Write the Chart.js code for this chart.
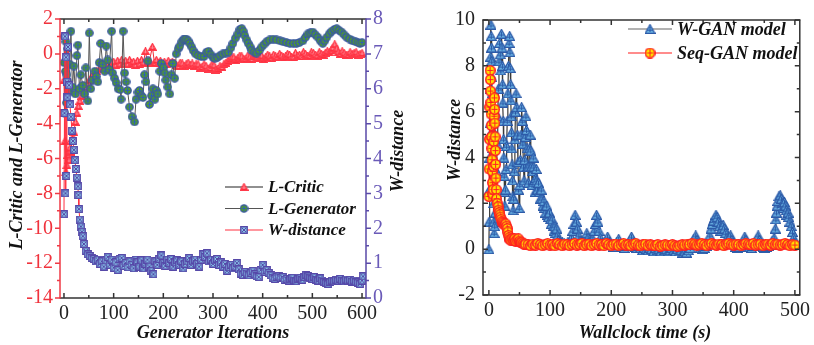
<!DOCTYPE html>
<html>
<head>
<meta charset="utf-8">
<script src="https://cdn.jsdelivr.net/npm/chart.js@4.4.1/dist/chart.umd.min.js"></script>
<style>
  body { margin: 0; background: #fff; width: 814px; height: 345px; overflow: hidden; position: relative; }
  canvas { position: absolute; top: 0; }
  #left { left: 0; }
  #right { left: 415px; }
</style>
</head>
<body>
<canvas id="left" width="410" height="345"></canvas>
<canvas id="right" width="399" height="345"></canvas>
<script>
// ---- left panel: losses and W-distance vs generator iterations ----
const iterTicks = [0, 100, 200, 300, 400, 500, 600];
const lossTicks = [-14, -12, -10, -8, -6, -4, -2, 0, 2];
const wdTicks = [0, 1, 2, 3, 4, 5, 6, 7, 8];

// [iteration, loss]
const lCritic = [
  [0,-1.5],[2,-5.0],[4,-6.8],[6,-6.4],[8,-5.8],[10,-6.1],[12,-5.4],[14,-5.6],[16,-5.0],[18,-4.8],
  [20,-4.5],[23,-3.9],[26,-3.4],[29,-3.0],[32,-2.7],[36,-2.4],[40,-2.1],[44,-1.9],[48,-1.7],[52,-1.5],
  [56,-1.3],[60,-1.15],[66,-1.0],[72,-0.85],[78,-0.75],[84,-0.65],[90,-0.55],[96,-0.5],[100,-0.45],[104,-0.65],
  [108,-0.4],[112,-0.6],[116,-0.35],[120,-0.55],[124,-0.4],[128,-0.6],[132,-0.35],[136,-0.55],[140,-0.45],[144,-0.65],
  [148,-0.4],[152,-0.6],[156,-0.35],[160,-0.5],[164,0.15],[168,-0.5],[172,-0.4],[178,0.4],[182,-0.5],[186,-0.35],
  [190,-0.55],[194,-0.4],[198,-0.6],[202,-0.45],[206,-0.6],[210,-0.4],[214,-0.55],[218,-0.45],[222,-0.5],[226,-0.65],
  [230,-0.7],[234,-0.5],[238,-0.55],[242,-0.7],[246,-0.6],[250,-0.5],[254,-0.65],[258,-0.55],[262,-0.7],[266,-0.6],
  [270,-0.6],[274,-0.8],[278,-0.75],[282,-0.6],[286,-0.7],[290,-0.85],[294,-0.8],[298,-0.6],[302,-0.65],[306,-0.9],
  [310,-0.85],[314,-0.7],[318,-0.75],[322,-0.6],[326,-0.5],[330,-0.4],[334,-0.3],[338,-0.2],[342,-0.2],[346,-0.35],
  [350,-0.25],[354,-0.1],[358,-0.15],[362,-0.3],[366,-0.3],[370,-0.1],[374,-0.2],[378,-0.3],[382,-0.15],[386,-0.05],
  [390,-0.25],[394,-0.2],[398,-0.1],[402,-0.3],[406,-0.2],[410,-0.05],[414,-0.15],[418,-0.25],[422,-0.05],[426,-0.15],
  [430,-0.2],[434,0.0],[438,-0.1],[442,-0.2],[446,-0.15],[450,0.0],[454,-0.05],[458,-0.2],[462,-0.2],[466,0.05],
  [470,-0.1],[474,-0.05],[478,-0.15],[482,0.1],[486,0.0],[490,-0.1],[494,-0.1],[498,0.1],[502,0.05],[506,-0.05],
  [510,-0.1],[514,0.1],[518,0.0],[522,-0.05],[526,0.05],[530,0.15],[534,0.1],[538,0.2],[541,0.35],[545,0.55],
  [549,0.3],[552,0.1],[556,0.0],[560,0.15],[564,0.05],[568,-0.05],[572,-0.05],[576,0.1],[580,0.0],[584,0.05],
  [588,0.1],[592,-0.05],[596,0.0],[600,0.05]
];

const lGenerator = [
  [0,-0.5],[1,1.0],[2,-3.4],[3,-1.0],[4,0.7],[5,-2.8],[6,-1.2],[7,0.3],[8,-1.6],[10,-2.2],
  [12,-0.6],[14,1.3],[17,-1.9],[20,-0.7],[23,-2.3],[26,-0.1],[28,0.5],[31,-2.0],[34,-1.2],[38,-1.8],
  [41,-2.3],[44,-0.8],[48,-2.7],[51,1.2],[54,-2.0],[58,-1.5],[62,-1.0],[65,-1.3],[68,-1.6],[71,-0.5],
  [74,0.6],[78,-0.6],[82,-1.0],[85,0.45],[88,-0.35],[91,-0.9],[96,1.3],[98,-1.1],[102,-1.4],[105,-1.65],
  [109,-2.0],[113,-2.05],[115,-2.6],[119,1.3],[122,-1.1],[125,-1.6],[128,-2.1],[132,-3.05],[137,-3.6],[142,-3.9],
  [145,-2.6],[149,-2.2],[152,-2.1],[156,-2.4],[159,-2.5],[162,-1.2],[165,-1.6],[169,-0.4],[172,-2.9],[176,-2.4],
  [179,-2.0],[183,-2.6],[186,-2.1],[189,-2.3],[193,-1.0],[196,-0.55],[200,-0.8],[203,-1.1],[205,-1.5],[209,-1.9],
  [213,-2.3],[216,-1.2],[219,-0.55],[223,-1.4],[226,0.0],[230,0.3],[233,0.45],[237,0.7],[240,0.8],[243,0.85],
  [246,0.85],[250,0.75],[253,0.6],[257,0.4],[260,0.2],[265,0.0],[270,-0.1],[276,-0.15],[282,-0.15],[287,0.1],
  [291,0.15],[296,-0.05],[300,-0.2],[304,-0.25],[309,-0.2],[314,-0.1],[320,0.0],[326,0.05],[331,0.1],[336,0.35],
  [340,0.6],[345,0.9],[350,1.15],[354,1.4],[358,1.45],[361,1.3],[364,1.05],[368,0.8],[371,0.6],[375,0.4],
  [378,0.2],[383,0.1],[388,0.05],[393,0.2],[398,0.4],[403,0.55],[408,0.7],[414,0.8],[421,0.85],[428,0.8],
  [435,0.75],[441,0.7],[448,0.65],[455,0.6],[462,0.6],[468,0.6],[474,0.65],[481,0.75],[486,0.95],[491,1.15],
  [496,1.2],[501,1.25],[506,1.1],[511,0.95],[516,0.75],[521,0.6],[525,0.75],[529,0.95],[534,1.15],[539,1.3],
  [544,1.4],[549,1.45],[554,1.35],[559,1.25],[564,1.1],[569,0.95],[575,0.85],[581,0.75],[587,0.7],[592,0.65],
  [596,0.6],[600,0.65]
];

// [iteration, W-distance] on the right axis
const wDistance = [
  [0,2.4],[1,5.3],[2,7.5],[3,3.0],[4,6.9],[5,3.5],[6,6.2],[7,5.75],[8,7.2],[10,6.1],
  [12,5.55],[14,5.2],[16,4.8],[18,4.5],[20,4.25],[22,3.95],[24,3.7],[26,3.45],[28,3.2],[29,2.95],
  [30,2.55],[32,2.25],[34,2.05],[36,1.9],[38,1.77],[40,1.55],[44,1.35],[48,1.25],[52,1.2],[56,1.15],
  [60,1.12],[64,1.05],[68,1.1],[72,0.98],[76,1.05],[80,0.9],[84,1.08],[88,1.18],[92,0.95],[96,1.1],
  [100,0.87],[104,1.02],[108,0.8],[112,1.12],[116,1.15],[120,0.92],[124,1.0],[128,0.88],[132,1.05],[136,0.95],
  [140,0.85],[144,1.1],[148,1.02],[152,0.9],[156,1.08],[160,0.85],[164,0.98],[168,1.1],[172,0.9],[176,0.78],
  [180,0.68],[184,1.05],[188,0.95],[192,1.12],[196,1.22],[200,1.0],[204,0.92],[208,1.1],[212,1.0],[216,1.12],
  [220,0.9],[224,1.02],[228,1.08],[232,0.95],[236,1.05],[240,0.85],[244,0.98],[248,1.05],[252,1.15],[256,0.95],
  [260,1.05],[264,1.1],[268,0.98],[272,0.9],[276,1.1],[280,1.25],[284,1.18],[288,1.28],[292,1.05],[296,1.1],
  [300,0.98],[304,1.08],[308,1.12],[312,0.95],[316,1.02],[320,0.9],[324,0.98],[328,0.78],[332,0.88],[336,0.95],
  [340,0.85],[344,0.9],[348,1.0],[352,0.82],[356,0.7],[360,0.66],[364,0.75],[368,0.7],[372,0.65],[376,0.72],
  [380,0.78],[384,0.68],[388,0.62],[392,0.6],[396,0.8],[400,0.95],[404,0.75],[408,0.8],[412,0.72],[416,0.65],
  [420,0.58],[424,0.55],[428,0.6],[432,0.62],[436,0.58],[440,0.6],[444,0.52],[448,0.55],[452,0.5],[456,0.54],
  [460,0.58],[464,0.5],[468,0.48],[472,0.55],[476,0.58],[480,0.52],[484,0.6],[488,0.66],[492,0.62],[496,0.58],
  [500,0.55],[504,0.6],[508,0.52],[512,0.5],[516,0.56],[520,0.5],[524,0.46],[528,0.43],[532,0.4],[536,0.46],
  [540,0.5],[544,0.48],[548,0.52],[552,0.5],[556,0.55],[560,0.5],[564,0.48],[568,0.53],[572,0.5],[576,0.52],
  [580,0.47],[584,0.5],[588,0.46],[592,0.44],[596,0.4],[600,0.5],[602,0.62]
];

// ---- right panel: W-distance vs wallclock time ----
const timeTicks = [0, 100, 200, 300, 400, 500];
const distTicks = [-2, 0, 2, 4, 6, 8, 10];

// [seconds, W-distance]
const wganModel = [
  [0,0.0],[0.5,1.2],[1,2.6],[1.5,4.0],[2,5.5],[2.5,7.0],[3,8.4],[3.4,9.8],[3.8,9.3],[4.2,8.8],
  [4.6,8.2],[5,7.5],[5.4,6.8],[5.8,6.0],[6.2,5.2],[6.6,4.4],[7,3.6],[7.4,2.8],[7.8,2.0],[8.2,1.2],
  [8.6,0.7],[9.5,1.0],[10.5,1.6],[11.5,2.4],[12.5,3.4],[13.5,4.6],[14.5,5.8],[15.5,7.0],[16.5,8.2],[17.5,9.0],
  [18.5,8.5],[19.5,7.8],[20.5,9.4],[21.5,8.8],[22,8.0],[22.5,7.2],[23,6.4],[23.5,5.6],[24,4.8],[24.5,4.0],
  [25,3.2],[25.5,2.5],[26,1.9],[27,2.6],[28,3.5],[29,4.5],[30,5.6],[31,6.8],[32,8.0],[33,9.0],
  [34,9.3],[34.5,8.6],[35,7.9],[35.5,7.2],[36,6.5],[36.5,5.8],[37,5.1],[37.5,4.4],[38,3.7],[38.5,3.0],
  [39,2.3],[39.5,1.7],[40.5,2.2],[41.5,3.4],[42.5,4.8],[43.5,6.0],[44.5,6.8],[45.5,6.2],[46.5,5.0],[47.5,3.8],
  [48.5,2.6],[49.5,1.8],[50.5,2.8],[51.5,3.9],[52.5,5.0],[53.5,6.2],[54.5,5.6],[55.5,4.6],[56.5,3.6],[57.5,3.0],
  [58.5,3.9],[59.5,4.9],[60.5,5.8],[61.5,5.2],[62.5,4.4],[63.5,3.6],[64.5,2.9],[65.5,3.6],[66.5,4.4],[67.5,5.0],
  [68.5,4.3],[69.5,3.6],[70.5,2.8],[71.5,3.4],[72.5,4.0],[73.5,3.6],[74.5,3.0],[75.5,2.5],[76.5,3.1],[77.5,3.5],
  [78.5,3.0],[79.5,2.6],[81,2.9],[82.5,2.5],[84,2.2],[85.5,2.6],[87,2.2],[88.5,1.9],[90,2.1],[91.5,1.8],
  [93,1.6],[94.5,1.9],[96,1.5],[97.5,1.4],[99,1.6],[100.5,1.3],[102,1.1],[103.5,1.3],[105,1.0],[106.5,0.8],
  [108,1.0],[109.5,0.7],[111,0.9],[112.5,0.6],[114,0.4],[116,0.3],[118,0.2],[120,0.3],[123,0.25],[126,0.2],
  [129,0.3],[132,0.25],[135,0.5],[137,0.8],[139,1.1],[141,1.5],[143,1.2],[145,0.9],[147,0.6],[149,0.35],
  [152,0.25],[155,0.2],[158,0.4],[160,0.7],[162,0.5],[164,0.3],[167,0.2],[170,0.45],[172,0.8],[174,1.1],
  [176,1.5],[178,1.2],[180,0.8],[182,0.5],[185,0.25],[188,0.2],[191,0.35],[194,0.55],[197,0.3],[200,0.2],
  [203,0.1],[206,0.2],[209,0.3],[212,0.45],[215,0.2],[218,0.1],[221,0.05],[224,0.15],[227,0.2],[230,0.35],
  [233,0.55],[236,0.25],[239,0.1],[242,0.05],[245,0.15],[248,0.05],[251,-0.05],[254,0.05],[257,0.0],[260,-0.05],
  [263,0.05],[266,0.0],[269,-0.1],[272,0.05],[275,-0.05],[278,0.0],[281,-0.1],[284,0.05],[287,-0.05],[290,0.0],
  [293,-0.1],[296,-0.05],[299,0.05],[302,-0.05],[305,-0.1],[308,0.0],[311,-0.1],[314,-0.05],[317,-0.15],[320,-0.1],
  [323,-0.15],[326,-0.05],[329,0.05],[332,0.2],[335,0.45],[338,0.6],[340,0.4],[343,0.2],[346,0.05],[349,0.0],
  [352,0.05],[355,0.15],[358,0.3],[361,0.6],[363,0.9],[365,1.1],[367,1.25],[369,1.35],[371,1.5],[373,1.4],
  [375,1.2],[377,1.0],[379,0.8],[381,0.9],[383,1.05],[385,0.9],[387,0.7],[389,0.5],[391,0.35],[393,0.45],
  [395,0.6],[397,0.4],[400,0.25],[403,0.1],[406,0.05],[409,0.1],[412,0.2],[415,0.3],[418,0.55],[420,0.4],
  [423,0.2],[426,0.1],[429,0.05],[432,0.15],[435,0.3],[438,0.45],[440,0.6],[442,0.4],[445,0.2],[448,0.1],
  [451,0.05],[454,0.1],[457,0.15],[460,0.2],[463,0.35],[466,0.5],[468,0.9],[469,1.3],[470,1.6],[471,1.9],
  [472,2.1],[474,2.3],[476,2.35],[478,2.2],[480,2.0],[481,1.8],[483,2.05],[485,1.9],[486,1.7],[487,1.5],
  [489,1.6],[490,1.4],[492,1.2],[494,1.0],[496,0.75],[498,0.5],[500,0.25]
];

const seqGanModel = [
  [0,2.3],[0.5,3.5],[1,4.8],[1.5,6.2],[2,7.8],[2.4,7.4],[2.8,6.9],[3.2,6.4],[3.6,5.9],[4,5.4],
  [4.4,4.9],[4.8,4.4],[5.2,3.9],[5.6,3.4],[6,2.9],[6.5,2.4],[7,2.6],[7.5,3.6],[8,4.7],[8.5,5.8],
  [9,6.6],[9.4,6.1],[9.8,5.5],[10.2,4.9],[10.6,4.3],[11,3.7],[11.5,3.1],[12,2.6],[12.5,2.2],[13.5,2.0],
  [15,1.85],[16,1.7],[17,1.6],[18,1.5],[19,1.4],[20,1.3],[21.5,1.2],[23,1.15],[24.5,1.1],[26,1.05],
  [27.5,1.1],[29,1.0],[30,0.9],[31,0.75],[32,0.6],[33,0.5],[34.5,0.42],[36,0.4],[38,0.45],[40,0.4],
  [42,0.45],[44,0.35],[46,0.4],[48,0.45],[50,0.35],[52,0.3],[54,0.3],[56,0.25],[58,0.2],[60,0.22],
  [64,0.2],[68,0.15],[72,0.22],[76,0.18],[80,0.25],[84,0.2],[88,0.15],[92,0.2],[96,0.25],[100,0.18],
  [104,0.2],[108,0.15],[112,0.25],[116,0.2],[120,0.15],[124,0.22],[128,0.2],[132,0.15],[136,0.2],[140,0.25],
  [144,0.18],[148,0.2],[152,0.25],[156,0.15],[160,0.2],[164,0.22],[168,0.15],[172,0.2],[176,0.25],[180,0.18],
  [184,0.2],[188,0.15],[192,0.25],[196,0.2],[200,0.15],[204,0.2],[208,0.22],[212,0.15],[216,0.2],[220,0.25],
  [224,0.18],[228,0.2],[232,0.15],[236,0.22],[240,0.25],[244,0.18],[248,0.15],[252,0.2],[256,0.22],[260,0.15],
  [264,0.2],[268,0.18],[272,0.15],[276,0.2],[280,0.12],[284,0.15],[288,0.2],[292,0.18],[296,0.15],[300,0.2],
  [304,0.15],[308,0.12],[312,0.15],[316,0.2],[320,0.18],[324,0.22],[328,0.2],[332,0.25],[336,0.22],[340,0.18],
  [344,0.2],[348,0.25],[352,0.2],[356,0.15],[360,0.22],[364,0.25],[368,0.2],[372,0.18],[376,0.22],[380,0.2],
  [384,0.15],[388,0.22],[392,0.25],[396,0.2],[400,0.18],[404,0.22],[408,0.2],[412,0.15],[416,0.2],[420,0.25],
  [424,0.22],[428,0.2],[432,0.25],[436,0.18],[440,0.2],[444,0.22],[448,0.15],[452,0.2],[456,0.22],[460,0.18],
  [464,0.25],[468,0.2],[472,0.22],[476,0.18],[480,0.2],[484,0.25],[488,0.2],[492,0.15],[496,0.2],[500,0.18]
];

const SERIF = '"Liberation Serif", "Times New Roman", serif';
const toXY = arr => arr.map(p => ({ x: p[0], y: p[1] }));

// small marker glyphs (Origin style: filled shape with a cross inside)
function marker(shape, w, h, fill, stroke, cross, lw) {
  const c = document.createElement('canvas');
  c.width = w; c.height = h;
  const g = c.getContext('2d');
  g.fillStyle = fill; g.strokeStyle = stroke; g.lineWidth = lw || 1.2;
  g.beginPath();
  if (shape === 'circle') g.arc(w / 2, h / 2, w / 2 - 0.8, 0, Math.PI * 2);
  else if (shape === 'rect') g.rect(0.8, 0.8, w - 1.6, h - 1.6);
  else { g.moveTo(w / 2, 0.6); g.lineTo(w - 0.6, h - 0.6); g.lineTo(0.6, h - 0.6); g.closePath(); }
  g.fill(); g.stroke();
  if (cross) {
    g.strokeStyle = cross; g.lineWidth = 1;
    g.beginPath();
    if (shape === 'rect') {
      g.moveTo(2, 2); g.lineTo(w - 2, h - 2); g.moveTo(w - 2, 2); g.lineTo(2, h - 2);
    } else {
      const cy = shape === 'triangle' ? h * 0.62 : h / 2;
      g.moveTo(w / 2, shape === 'triangle' ? h * 0.3 : 2); g.lineTo(w / 2, h - 2);
      g.moveTo(2.5, cy); g.lineTo(w - 2.5, cy);
    }
    g.stroke();
  }
  return c;
}

const critMark = marker('triangle', 9, 8, '#ff2a3a', '#ff3a4a', '#ff8a96');
const genMark = marker('circle', 9, 9, '#4e9a2e', '#3a56a8', '#2f5fb8', 1.3);
const wdMark = marker('rect', 8, 8, '#86c6e8', '#5648a8', '#5648a8', 1.4);
const wganMark = marker('triangle', 11, 10, '#68b0e2', '#2c5aa8', '#2c5aa8');
const seqMark = marker('circle', 11, 11, '#ffe000', '#ff2020', '#ff2020', 1.6);

// axis frame, tick marks, titles and legend drawn through the chart's scales
const decor = {
  id: 'decor',
  afterDraw(chart, args, o) {
    const { ctx, chartArea: a } = chart;
    ctx.save();
    (o.edges || []).forEach(e => {
      const s = chart.scales[e.scale];
      const horiz = e.side === 'top' || e.side === 'bottom';
      const base = a[e.side];
      const inSign = (e.side === 'top' || e.side === 'left') ? 1 : -1;
      const d = e.inward ? inSign : -inSign;
      ctx.strokeStyle = e.color; ctx.lineWidth = 1.5;
      ctx.beginPath();
      if (horiz) { ctx.moveTo(a.left - 0.5, base); ctx.lineTo(a.right + 0.5, base); }
      else { ctx.moveTo(base, a.top - 0.5); ctx.lineTo(base, a.bottom + 0.5); }
      [[e.major, 5], [e.minor || [], 3]].forEach(([vals, len]) => vals.forEach(v => {
        const p = s.getPixelForValue(v);
        if (horiz) { ctx.moveTo(p, base); ctx.lineTo(p, base + d * len); }
        else { ctx.moveTo(base, p); ctx.lineTo(base + d * len, p); }
      }));
      ctx.stroke();
    });
    ctx.fillStyle = '#111';
    ctx.textBaseline = 'middle';
    ctx.textAlign = 'center';
    ctx.font = 'italic bold 18px ' + SERIF;
    (o.titles || []).forEach(t => {
      ctx.save();
      ctx.translate(t.x, t.y);
      if (t.rot) ctx.rotate(-Math.PI / 2);
      ctx.fillText(t.text, 0, 0);
      ctx.restore();
    });
    const L = o.legend;
    if (L) {
      ctx.font = 'italic bold ' + L.size + 'px ' + SERIF;
      ctx.textAlign = 'left';
      chart.data.datasets.forEach((ds, i) => {
        const y = L.y + i * L.dy;
        ctx.strokeStyle = ds.legendLine || ds.borderColor; ctx.lineWidth = 1.2;
        ctx.beginPath(); ctx.moveTo(L.x0, y); ctx.lineTo(L.x1, y); ctx.stroke();
        const m = ds.pointStyle;
        ctx.drawImage(m, (L.x0 + L.x1) / 2 - m.width / 2, y - m.height / 2);
        ctx.fillStyle = '#111';
        ctx.fillText(ds.label, L.tx, y + 1);
      });
    }
    ctx.restore();
  }
};

function fixedTicks(list) {
  return s => { s.ticks = list.map(v => ({ value: v })); };
}

const tickFont = { family: SERIF, size: 20 };

new Chart(document.getElementById('left'), {
  type: 'line',
  data: {
    datasets: [
      { label: 'L-Critic', data: toXY(lCritic), yAxisID: 'y', order: 3,
        borderColor: '#f02a38', legendLine: '#222', borderWidth: 1,
        pointStyle: critMark, pointRadius: 4, tension: 0 },
      { label: 'L-Generator', data: toXY(lGenerator), yAxisID: 'y', order: 2,
        borderColor: '#555', borderWidth: 1,
        pointStyle: genMark, pointRadius: 4.5, tension: 0 },
      { label: 'W-distance', data: toXY(wDistance), yAxisID: 'y2', order: 1,
        borderColor: '#ff3040', borderWidth: 1,
        pointStyle: wdMark, pointRadius: 4, tension: 0 }
    ]
  },
  options: {
    responsive: false, animation: false, devicePixelRatio: 1,
    layout: { padding: { top: 13, left: 0, right: 0, bottom: 0 } },
    plugins: {
      legend: { display: false }, tooltip: { enabled: false },
      decor: {
        edges: [
          { scale: 'x', side: 'top', color: '#333', inward: true, major: iterTicks, minor: [50,150,250,350,450,550] },
          { scale: 'x', side: 'bottom', color: '#333', inward: true, major: iterTicks, minor: [50,150,250,350,450,550] },
          { scale: 'y', side: 'left', color: '#f03a46', inward: false, major: lossTicks, minor: [-13,-11,-9,-7,-5,-3,-1,1] },
          { scale: 'y2', side: 'right', color: '#5a4aa8', inward: false, major: wdTicks, minor: [0.5,1.5,2.5,3.5,4.5,5.5,6.5,7.5] }
        ],
        titles: [
          { text: 'Generator Iterations', x: 213, y: 333 },
          { text: 'L-Critic and L-Generator', x: 17, y: 155, rot: true },
          { text: 'W-distance', x: 398, y: 151, rot: true }
        ],
        legend: { x0: 225, x1: 263, tx: 268, y: 187, dy: 21.5, size: 17 }
      }
    },
    scales: {
      x: { type: 'linear', min: -8, max: 608, afterBuildTicks: fixedTicks(iterTicks),
           afterFit: s => { s.height = 47; },
           grid: { display: false, drawTicks: false }, border: { display: false },
           ticks: { color: '#222', padding: 4, maxRotation: 0, font: tickFont } },
      y: { position: 'left', min: -14, max: 2, afterBuildTicks: fixedTicks(lossTicks),
           afterFit: s => { s.width = 60; },
           grid: { display: false, drawTicks: false }, border: { display: false },
           ticks: { color: '#f0323c', padding: 7, font: tickFont } },
      y2: { position: 'right', min: 0, max: 8, afterBuildTicks: fixedTicks(wdTicks),
            afterFit: s => { s.width = 44; },
            grid: { display: false, drawTicks: false }, border: { display: false },
            ticks: { color: '#6a5ab8', padding: 7, font: tickFont } }
    }
  },
  plugins: [decor]
});

new Chart(document.getElementById('right'), {
  type: 'line',
  data: {
    datasets: [
      { label: 'W-GAN model', data: toXY(wganModel), order: 2,
        borderColor: '#3a3a3a', legendLine: '#666', borderWidth: 1.2,
        pointStyle: wganMark, pointRadius: 5, tension: 0 },
      { label: 'Seq-GAN model', data: toXY(seqGanModel), order: 1,
        borderColor: '#ff1a1a', borderWidth: 1.2,
        pointStyle: seqMark, pointRadius: 5.5, tension: 0 }
    ]
  },
  options: {
    responsive: false, animation: false, devicePixelRatio: 1,
    layout: { padding: { top: 13, left: 0, right: 7, bottom: 0 } },
    plugins: {
      legend: { display: false }, tooltip: { enabled: false },
      decor: {
        edges: [
          { scale: 'x', side: 'top', color: '#333', inward: true, major: timeTicks, minor: [50,150,250,350,450] },
          { scale: 'x', side: 'bottom', color: '#333', inward: true, major: timeTicks, minor: [50,150,250,350,450] },
          { scale: 'y', side: 'left', color: '#333', inward: true, major: distTicks, minor: [-1,1,3,5,7,9] },
          { scale: 'y', side: 'right', color: '#333', inward: true, major: distTicks, minor: [-1,1,3,5,7,9] }
        ],
        titles: [
          { text: 'Wallclock time (s)', x: 230, y: 333 },
          { text: 'W-distance', x: 40, y: 140, rot: true }
        ],
        legend: { x0: 213, x1: 257, tx: 262, y: 29, dy: 24, size: 18 }
      }
    },
    scales: {
      x: { type: 'linear', min: -9.6, max: 508, afterBuildTicks: fixedTicks(timeTicks),
           afterFit: s => { s.height = 50; },
           grid: { display: false, drawTicks: false }, border: { display: false },
           ticks: { color: '#222', padding: 4, maxRotation: 0, font: tickFont } },
      y: { position: 'left', min: -2, max: 10, afterBuildTicks: fixedTicks(distTicks),
           afterFit: s => { s.width = 68; },
           grid: { display: false, drawTicks: false }, border: { display: false },
           ticks: { color: '#222', padding: 8, font: tickFont } }
    }
  },
  plugins: [decor]
});
</script>
</body>
</html>
